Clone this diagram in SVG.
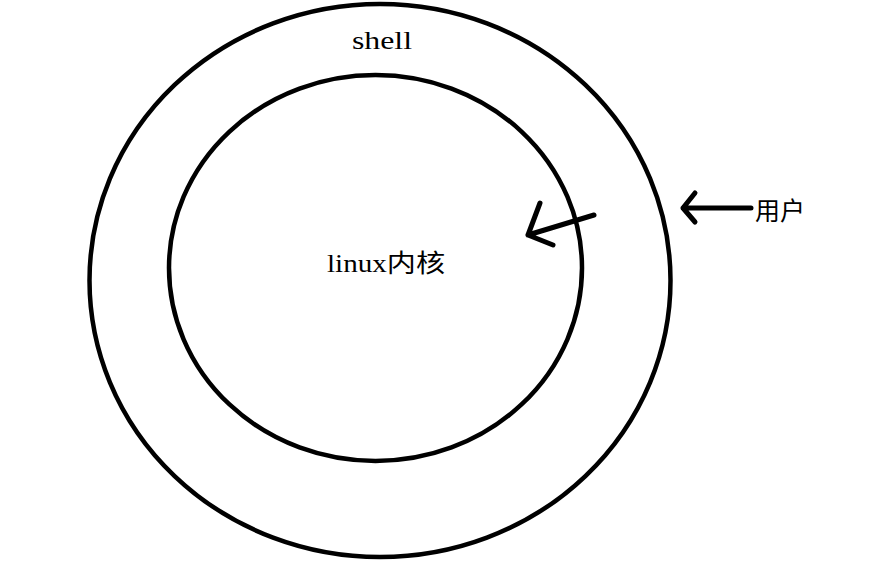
<svg xmlns="http://www.w3.org/2000/svg" width="871" height="569" viewBox="0 0 871 569">
<style>
.ring{fill:none;stroke:#000;stroke-width:4.5}
.arr{fill:none;stroke:#000;stroke-width:5;stroke-linecap:round;stroke-linejoin:round}
.lbl{font-family:"Liberation Serif","Noto Sans CJK SC",serif;font-size:25px;fill:#000}
</style>
<rect width="871" height="569" fill="#fff"/>
<g id="shell">
<ellipse class="ring" cx="380" cy="280.5" rx="290.5" ry="276.5"/>
<text class="lbl" x="352" y="49" textLength="60" lengthAdjust="spacingAndGlyphs">shell</text>
</g>
<g id="kernel">
<ellipse class="ring" cx="375.5" cy="268" rx="206.5" ry="193"/>
<text class="lbl" x="327" y="272" textLength="118" lengthAdjust="spacingAndGlyphs">linux内核</text>
</g>
<g id="user">
<text class="lbl" x="755" y="220" font-size="24" textLength="50">用户</text>
</g>
<g id="connectors">
<path class="arr" d="M594,215 L528,235 M540,203 L528,235 L553,245"/>
<path class="arr" d="M751,208 L683,208 M695,193 L683,208 L695,222"/>
</g>
</svg>
